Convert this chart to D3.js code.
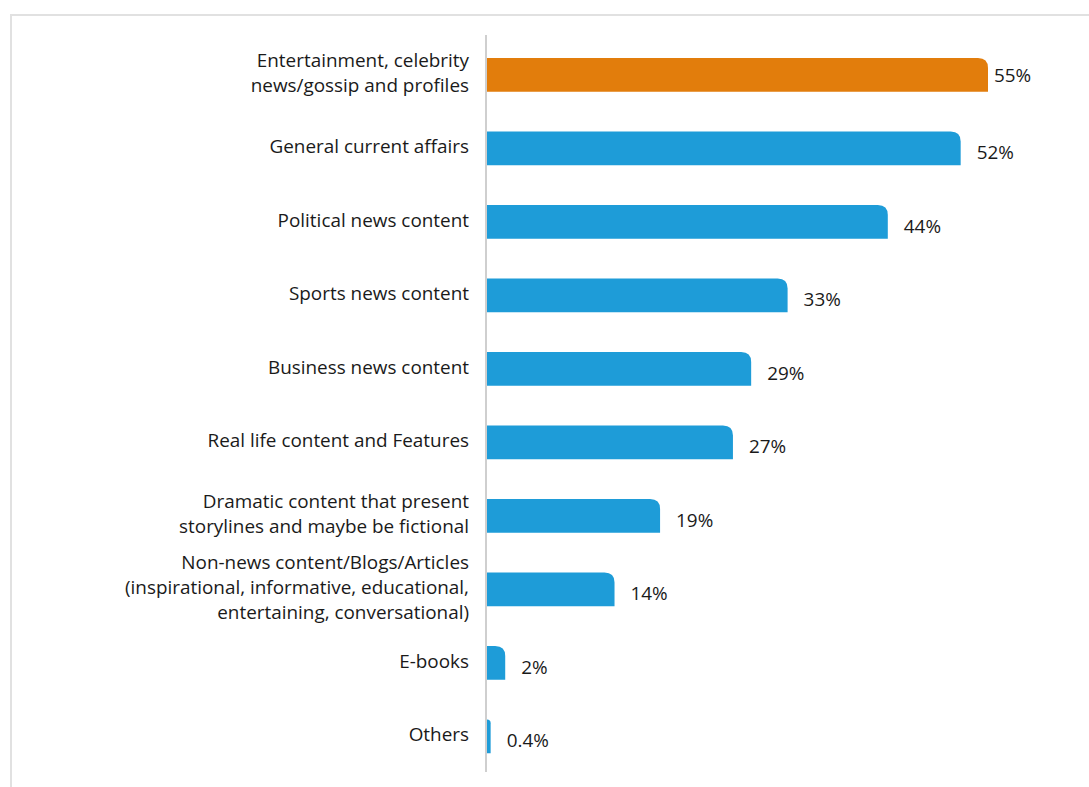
<!DOCTYPE html>
<html>
<head>
<meta charset="utf-8">
<script src="https://cdn.jsdelivr.net/npm/d3@7"></script>
<style>
  html, body { margin: 0; padding: 0; background: #fff; }
  svg { display: block; }
  text { font-family: "Open Sans", "Noto Sans", sans-serif; fill: #1a1a1a; }
</style>
</head>
<body>
<svg id="chart" width="1089" height="787"></svg>
<script>
// Content categories (line breaks mark label wrapping)
const categories = [
  "Entertainment, celebrity\nnews/gossip and profiles",
  "General current affairs",
  "Political news content",
  "Sports news content",
  "Business news content",
  "Real life content and Features",
  "Dramatic content that present\nstorylines and maybe be fictional",
  "Non-news content/Blogs/Articles\n(inspirational, informative, educational,\nentertaining, conversational)",
  "E-books",
  "Others"
];
// Share of respondents, percent
const values = [55, 52, 44, 33, 29, 27, 19, 14, 2, 0.4];
const valueLabels = ["55%", "52%", "44%", "33%", "29%", "27%", "19%", "14%", "2%", "0.4%"];
const highlighted = [true, false, false, false, false, false, false, false, false, false];

const svg = d3.select("#chart");
const W = 1089, H = 787;
const fontSize = 18.9;

// Frame lines (top and left)
svg.append("path")
  .attr("d", `M11,${H} L11,15 L${W},15`)
  .attr("fill", "none")
  .attr("stroke", "#e1e1e1")
  .attr("stroke-width", 2);

const x0 = 487;
const x = d3.scaleLinear().domain([0, 55]).range([x0, 988]);
const y = d3.scaleBand()
  .domain(d3.range(categories.length))
  .range([38.2, 773.2])
  .paddingInner(0.54)
  .paddingOuter(0.27);

const bw = y.bandwidth();

// Bars with rounded top-right corner
function barPath(x1, y1, w, h) {
  const r = Math.min(10, w, h);
  return `M${x1},${y1} L${x1 + w - r},${y1} Q${x1 + w},${y1} ${x1 + w},${y1 + r} L${x1 + w},${y1 + h} L${x1},${y1 + h} Z`;
}

svg.append("g").selectAll("path")
  .data(values)
  .join("path")
  .attr("d", (d, i) => barPath(x0, y(i), x(d) - x0, bw))
  .attr("fill", (d, i) => highlighted[i] ? "#e27d0c" : "#1e9cd8");

// Vertical axis line
svg.append("line")
  .attr("x1", 486).attr("x2", 486)
  .attr("y1", 35).attr("y2", 772)
  .attr("stroke", "#cfcfcf")
  .attr("stroke-width", 2);

// Category labels
const lineH = 25;
const cat = svg.append("g").selectAll("text")
  .data(categories)
  .join("text")
  .attr("text-anchor", "end")
  .attr("font-size", fontSize)
  .attr("x", 469)
  .attr("y", (d, i) => y(i) + bw / 2 - 2);
cat.each(function(d) {
  const lines = d.split("\n");
  const t = d3.select(this);
  const y0 = +t.attr("y") - (lines.length - 1) * lineH / 2;
  lines.forEach((ln, k) => {
    t.append("tspan")
      .attr("x", 469)
      .attr("y", y0 + k * lineH)
      .attr("dy", "0.35em")
      .text(ln);
  });
});

// Value labels
svg.append("g").selectAll("text")
  .data(values)
  .join("text")
  .attr("font-size", fontSize)
  .attr("x", (d, i) => x(d) + (highlighted[i] ? 6 : 16))
  .attr("y", (d, i) => y(i) + bw / 2 + (highlighted[i] ? 0 : 4))
  .attr("dy", "0.35em")
  .text((d, i) => valueLabels[i]);
</script>
</body>
</html>
